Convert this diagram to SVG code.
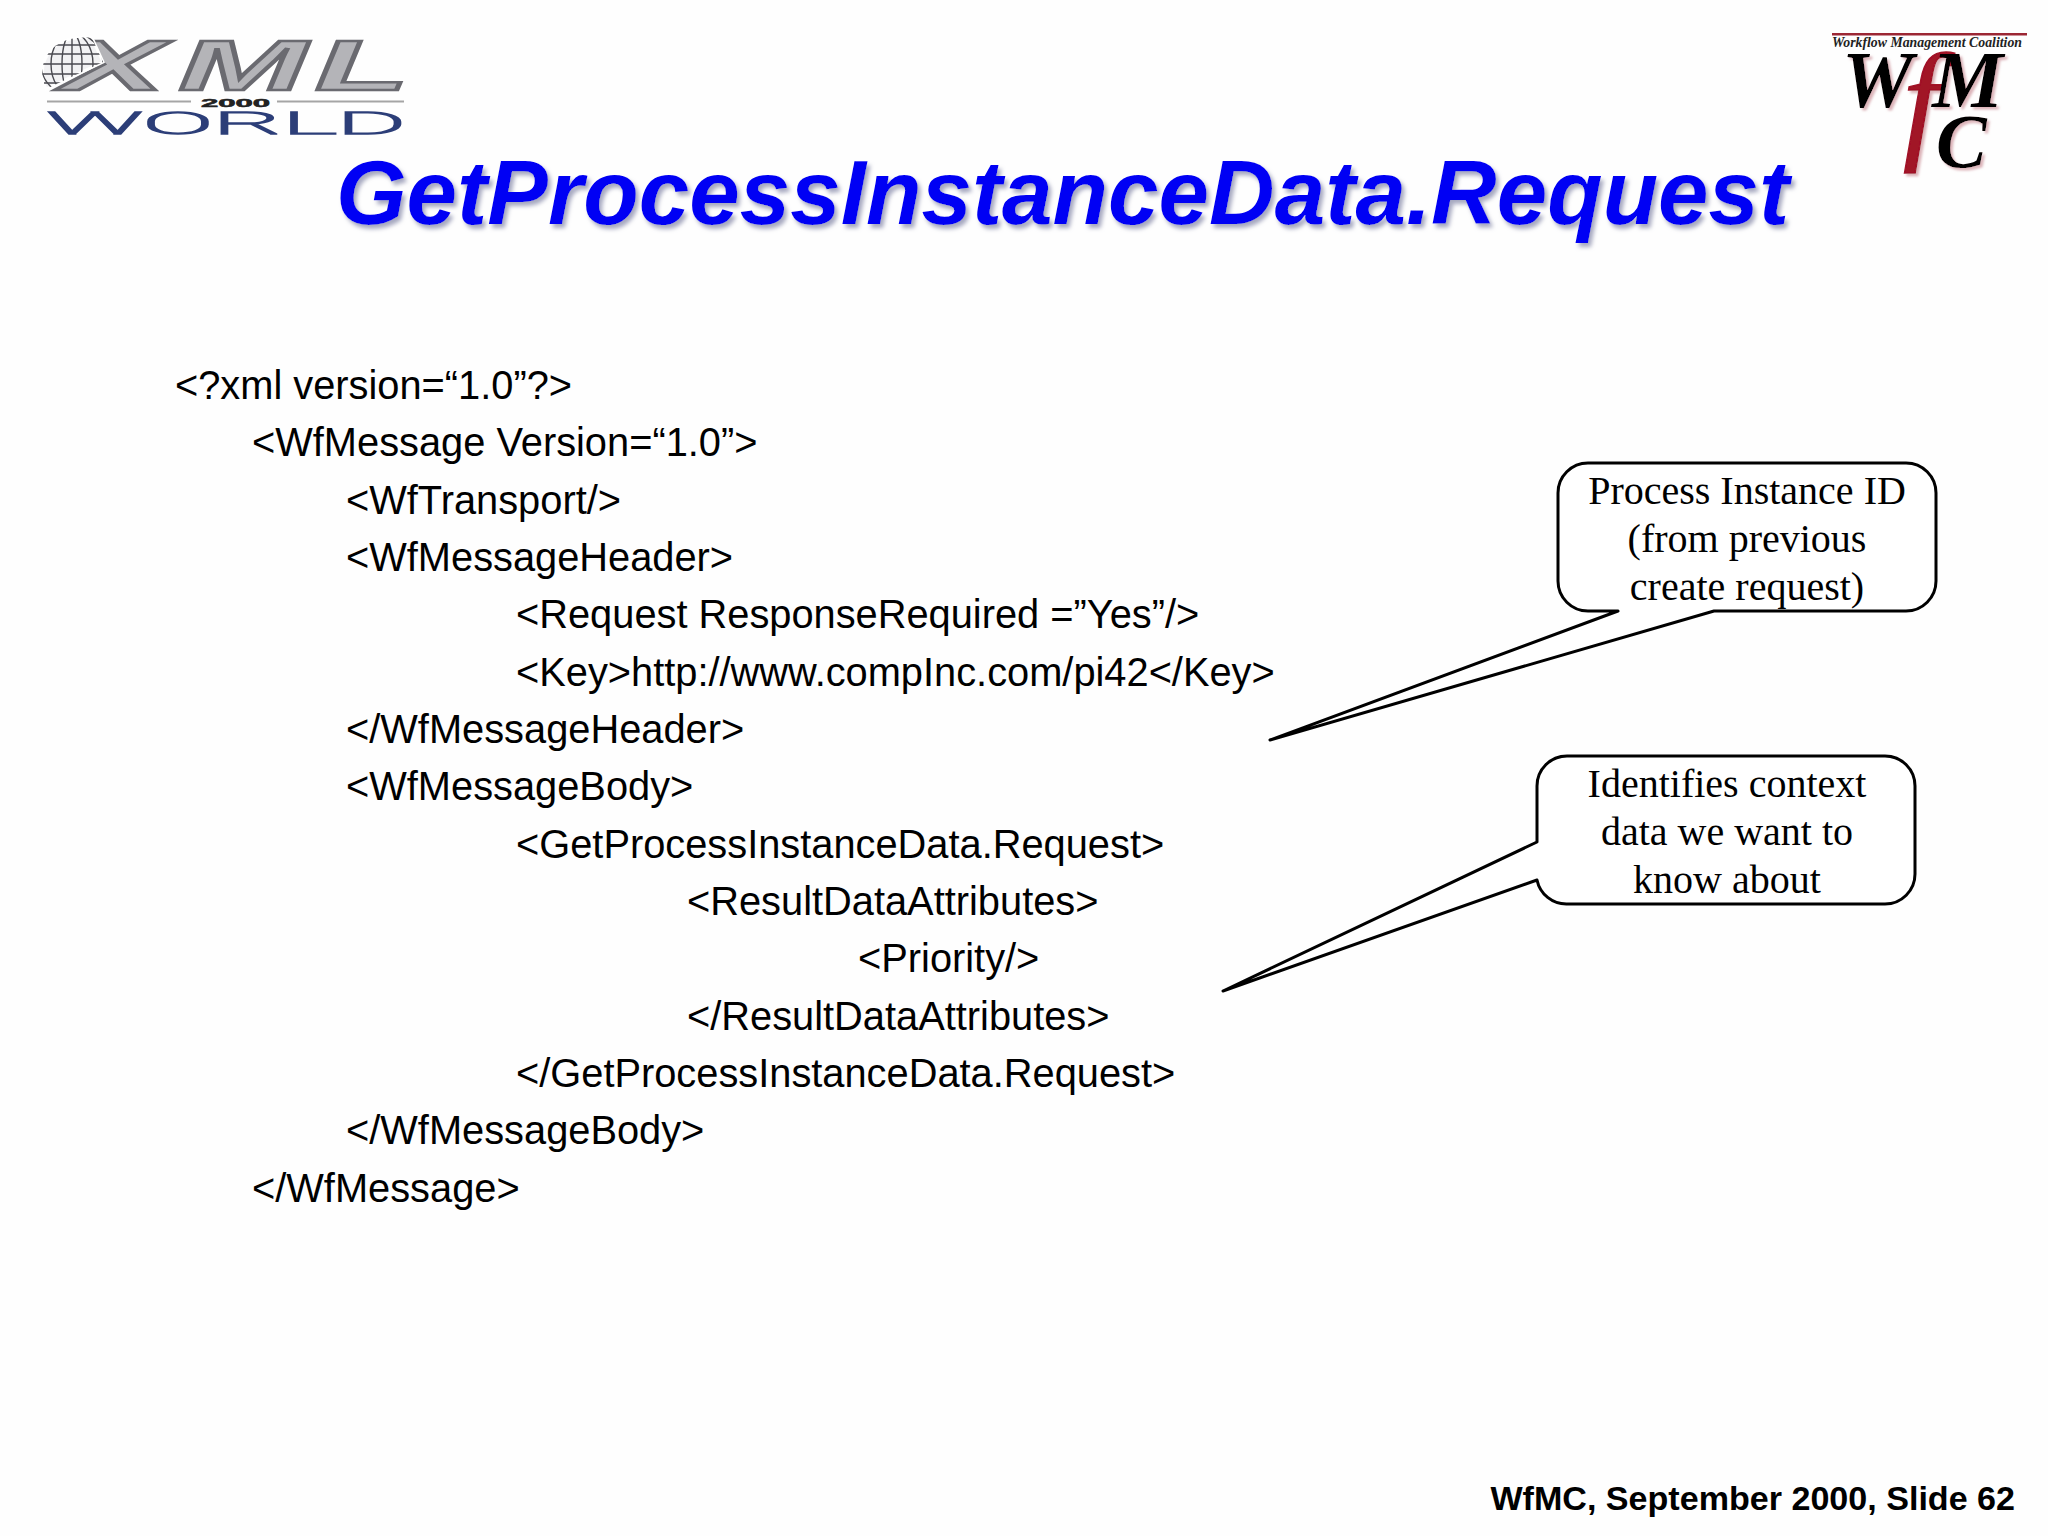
<svg xmlns="http://www.w3.org/2000/svg" width="2048" height="1536" viewBox="0 0 2048 1536">
<defs>
<style>
.code{font-family:"Liberation Sans",Arial,sans-serif;font-size:39.8px;fill:#000}
.note{font-family:"Liberation Serif","Times New Roman",serif;font-size:40px;fill:#000;text-anchor:middle}
.bubble{fill:#fff;stroke:#000;stroke-width:3;stroke-linejoin:round}
.wf{font-family:"Liberation Serif","Times New Roman",serif;font-weight:bold;font-style:italic}
</style>
<linearGradient id="xg" gradientUnits="userSpaceOnUse" x1="0" y1="40" x2="0" y2="92">
<stop offset="0" stop-color="#b4b4b8"/><stop offset="0.13" stop-color="#a0a0a4"/><stop offset="0.15" stop-color="#505056"/><stop offset="0.33" stop-color="#5e5e64"/><stop offset="0.35" stop-color="#a4a4a8"/><stop offset="1" stop-color="#8e8e92"/>
</linearGradient>
<linearGradient id="wg" gradientUnits="userSpaceOnUse" x1="0" y1="112" x2="0" y2="134"><stop offset="0" stop-color="#8a98bd"/><stop offset="1" stop-color="#1f3270"/></linearGradient>
<filter id="tshadow" x="-2%" y="-10%" width="104%" height="125%"><feDropShadow dx="3" dy="4" stdDeviation="2" flood-color="#a6a8c0"/></filter>
<filter id="pshadow" x="-10%" y="-10%" width="125%" height="125%"><feDropShadow dx="2.5" dy="2.5" stdDeviation="0.8" flood-color="#dcb4b9"/></filter>
<clipPath id="gclip"><path d="M46 89 C34 62 52 34 92 38 L103 62 Z"/></clipPath>
</defs>
<rect width="2048" height="1536" fill="#fefefe"/>

<g id="logo-xml">
<text transform="translate(62,90) scale(2.2,1)" x="0 53 115" font-family="'Liberation Sans',Arial,sans-serif" font-weight="bold" font-style="italic" font-size="70" fill="url(#xg)" stroke="#6a6a70" stroke-width="2.500">XML</text>
<g id="globe">
<path d="M46 89 C34 62 52 34 92 38 L103 62 Z" fill="#f2f2f4" stroke="#fff" stroke-width="3"/>
<g clip-path="url(#gclip)" fill="none" stroke="#4a4a50" stroke-width="1.400">
<circle cx="72" cy="64" r="31"/>
<ellipse cx="72" cy="64" rx="10" ry="31"/>
<ellipse cx="72" cy="64" rx="21" ry="31"/>
<path d="M38 64 H108 M40 54 H104 M40 74 H104 M44 45 H100 M44 83 H100 M72 32 V98"/>
</g>
</g>
<rect x="47" y="100.500" width="144" height="2" fill="#a5a5a5"/>
<rect x="277" y="100.500" width="127" height="2" fill="#a5a5a5"/>
<text x="235.500" y="107" font-family="'Liberation Sans',sans-serif" font-weight="bold" font-size="11" text-anchor="middle" textLength="69" lengthAdjust="spacingAndGlyphs" fill="#222" stroke="#222" stroke-width="0.5">2000</text>
<text transform="translate(47,134) scale(1,1.04)" font-family="Roboto,'Liberation Sans',sans-serif" font-weight="100" font-size="30" textLength="359" lengthAdjust="spacingAndGlyphs" fill="url(#wg)" stroke="#2c3e78" stroke-width="1.400">WORLD</text>
</g>

<g id="logo-wfmc">
<rect x="1832" y="33" width="195" height="2.500" fill="#9c2734"/>
<text class="wf" x="1832" y="47" font-size="14.500" textLength="190" lengthAdjust="spacingAndGlyphs" fill="#222">Workflow Management Coalition</text>
<text class="wf" font-size="80" fill="#000" filter="url(#pshadow)"><tspan x="1842" y="107">W</tspan><tspan x="1903" y="145" font-size="132" font-weight="normal" fill="#a11226" stroke="#a11226" stroke-width="1.400">f</tspan><tspan x="1932" y="107">M</tspan></text>
<text class="wf" x="1936" y="167" font-size="76" fill="#000" filter="url(#pshadow)">C</text>
</g>

<text id="title" x="336" y="224" font-family="'Liberation Sans',Arial,sans-serif" font-size="90.800" font-weight="bold" font-style="italic" fill="#0000f4" filter="url(#tshadow)">GetProcessInstanceData.Request</text>

<g id="xml-code">
<text class="code" x="175" y="399">&lt;?xml version=“1.0”?&gt;</text>
<text class="code" x="252" y="456">&lt;WfMessage Version=“1.0”&gt;</text>
<text class="code" x="346" y="514">&lt;WfTransport/&gt;</text>
<text class="code" x="346" y="571">&lt;WfMessageHeader&gt;</text>
<text class="code" x="516" y="628">&lt;Request ResponseRequired =”Yes”/&gt;</text>
<text class="code" x="516" y="686">&lt;Key&gt;http://www.compInc.com/pi42&lt;/Key&gt;</text>
<text class="code" x="346" y="743">&lt;/WfMessageHeader&gt;</text>
<text class="code" x="346" y="800">&lt;WfMessageBody&gt;</text>
<text class="code" x="516" y="858">&lt;GetProcessInstanceData.Request&gt;</text>
<text class="code" x="687" y="915">&lt;ResultDataAttributes&gt;</text>
<text class="code" x="858" y="972">&lt;Priority/&gt;</text>
<text class="code" x="687" y="1030">&lt;/ResultDataAttributes&gt;</text>
<text class="code" x="516" y="1087">&lt;/GetProcessInstanceData.Request&gt;</text>
<text class="code" x="346" y="1144">&lt;/WfMessageBody&gt;</text>
<text class="code" x="252" y="1202">&lt;/WfMessage&gt;</text>
</g>

<g id="callout-process-instance">
<path class="bubble" d="M1588 463 H1906 A30 30 0 0 1 1936 493 V581 A30 30 0 0 1 1906 611 H1714 L1270 740 L1618 611 H1588 A30 30 0 0 1 1558 581 V493 A30 30 0 0 1 1588 463 Z"/>
<text class="note" x="1747" y="504">Process Instance ID</text>
<text class="note" x="1747" y="552">(from previous</text>
<text class="note" x="1747" y="600">create request)</text>
</g>

<g id="callout-context">
<path class="bubble" d="M1567 756 H1885 A30 30 0 0 1 1915 786 V874 A30 30 0 0 1 1885 904 H1567 A30 30 0 0 1 1537 880 L1223 991 L1537 842 V786 A30 30 0 0 1 1567 756 Z"/>
<text class="note" x="1727" y="797">Identifies context</text>
<text class="note" x="1727" y="845">data we want to</text>
<text class="note" x="1727" y="893">know about</text>
</g>

<text id="footer" x="2015" y="1510" text-anchor="end" font-family="'Liberation Sans',Arial,sans-serif" font-weight="bold" font-size="34.100" fill="#000">WfMC, September 2000, Slide 62</text>
</svg>
